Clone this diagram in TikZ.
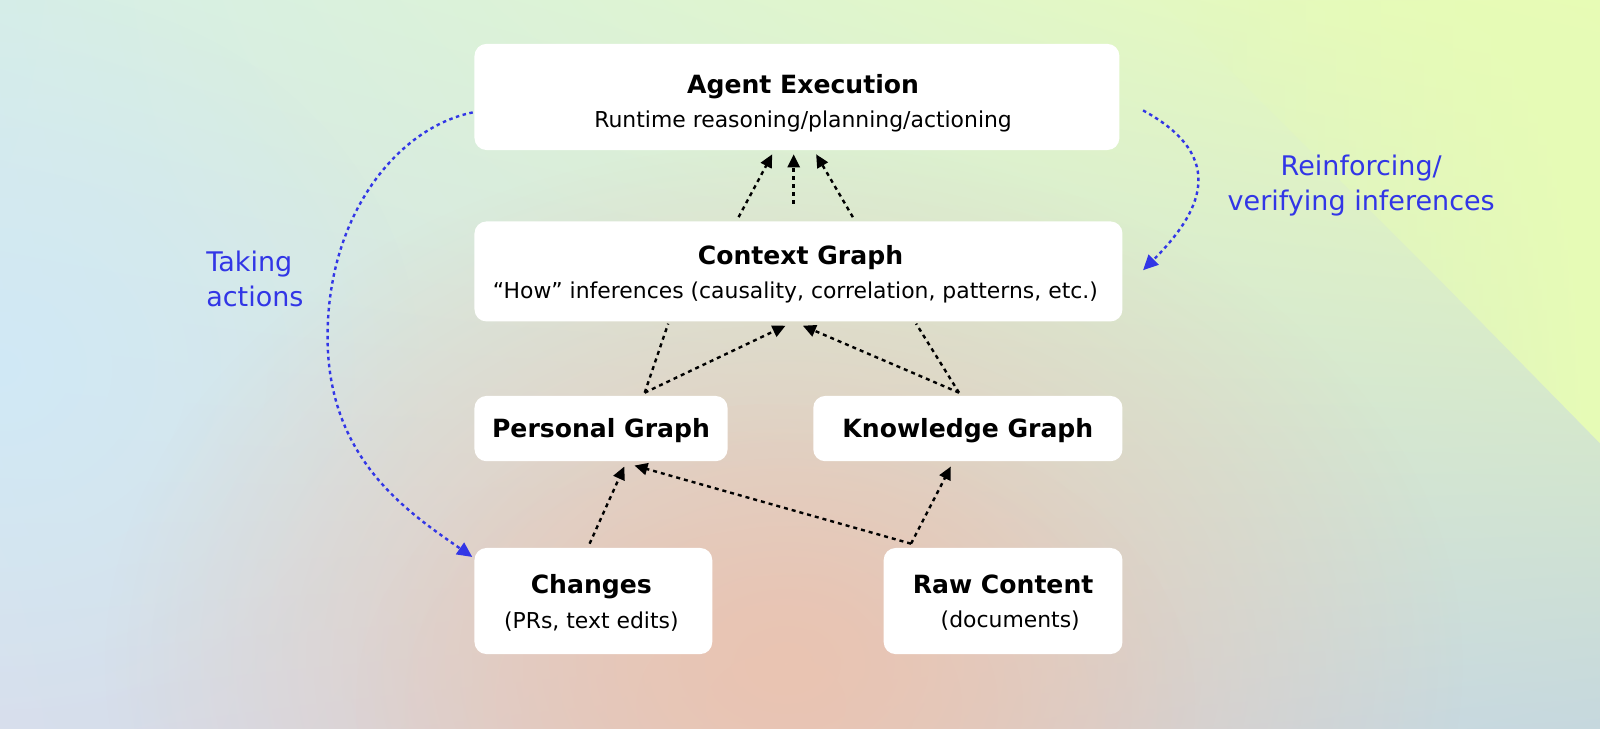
\documentclass[tikz,border=0pt]{standalone}
\usepackage{fontspec}
\setmainfont{DejaVu Sans}
\usetikzlibrary{arrows.meta,calc,fadings,shadings}
\tikzfading[name=softblob, inner color=transparent!0, outer color=transparent!100]
\tikzfading[name=toeast, left color=transparent!100, middle color=transparent!94, right color=transparent!0]
\definecolor{blu}{RGB}{50,54,230}
\definecolor{bgUL}{RGB}{214,238,232}
\definecolor{bgUR}{RGB}{232,252,180}
\definecolor{bgLL}{RGB}{216,222,236}
\definecolor{bgLR}{RGB}{198,216,222}
\definecolor{peach}{RGB}{234,196,178}
\definecolor{skyb}{RGB}{208,233,247}
\definecolor{lime}{RGB}{231,252,182}
\def\k{1.0204}
\begin{document}
\begin{tikzpicture}[x=1.0204pt,y=-1.0204pt,
  box/.style={fill=white, rounded corners=12pt, inner sep=0pt},
  ttl/.style={font=\fontsize{25.1}{30}\selectfont\bfseries, inner sep=0pt, anchor=base},
  sub/.style={font=\fontsize{21.9}{30}\selectfont, inner sep=0pt, anchor=base},
  conn/.style={line width=2.4pt, dash pattern=on 4pt off 4pt, -{Triangle[length=13pt,width=12pt]}},
  plainc/.style={line width=2.4pt, dash pattern=on 4pt off 4pt},
  bconn/.style={blu, line width=2.4pt, dash pattern=on 3.5pt off 3.5pt, -{Triangle[length=15pt,width=14pt]}},
  lbl/.style={blu, font=\fontsize{27}{34.5}\selectfont, inner sep=0pt}
]
\useasboundingbox (0,0) rectangle (1568,713.44);
% background
\shade[upper left=bgUL, upper right=bgUR, lower left=bgLL, lower right=bgLR] (0,0) rectangle (1568,713.44);
\fill[skyb, path fading=softblob, opacity=0.9] (0,360) ellipse [x radius=420pt, y radius=380pt];
\fill[peach, path fading=softblob, opacity=1] (770,650) ellipse [x radius=680pt, y radius=520pt];
\fill[peach, path fading=softblob, opacity=0.6] (760,690) ellipse [x radius=420pt, y radius=300pt];
\fill[lime, path fading=toeast] (1137,0) -- (1411,274) -- (1568,434) -- (1568,0) -- cycle;

% boxes
\node[box, minimum width=632*\k, minimum height=104*\k] (ag) at (781,95) {};
\node[box, minimum width=635*\k, minimum height=98*\k] (ctx) at (782.5,266) {};
\node[box, minimum width=248*\k, minimum height=64*\k] (pg) at (589,420) {};
\node[box, minimum width=303*\k, minimum height=64*\k] (kg) at (948.5,420) {};
\node[box, minimum width=233*\k, minimum height=104*\k] (ch) at (581.5,589) {};
\node[box, minimum width=234*\k, minimum height=104*\k] (rc) at (983,589) {};

% texts
\node[ttl] (agt) at ($(ag.north)+(6,49)$) {Agent Execution};
\node[sub] (ags) at ($(ag.north)+(6,82)$) {Runtime reasoning/planning/actioning};
\node[ttl] (ctxt) at ($(ctx.north)+(2,42)$) {Context Graph};
\node[sub] (ctxs) at ($(ctx.north)+(-3,76)$) {“How” inferences (causality, correlation, patterns, etc.)};
\node[ttl] (pgt) at ($(pg.north)+(0,41)$) {Personal Graph};
\node[ttl] (kgt) at ($(kg.north)+(0,41)$) {Knowledge Graph};
\node[ttl] (cht) at ($(ch.north)+(-2,45)$) {Changes};
\node[sub] (chs) at ($(ch.north)+(-2,79)$) {(PRs, text edits)};
\node[ttl] (rct) at ($(rc.north)+(0,45)$) {Raw Content};
\node[sub] (rcs) at ($(rc.north)+(7,78)$) {(documents)};

% black connectors
\draw[conn] ($(ctx.north west)+(259,-4)$) -- ($(ag.south west)+(292,4)$);
\draw[conn] ($(ctx.north west)+(313,-17)$) -- ($(ag.south west)+(313,4)$);
\draw[conn] ($(ctx.north west)+(371,-4)$) -- ($(ag.south west)+(335,4)$);

\coordinate (pgtop) at ($(pg.north west)+(167,-3)$);
\coordinate (kgtop) at ($(kg.north west)+(143,-3)$);
\draw[plainc] (pgtop) -- ($(ctx.south west)+(190,2)$);
\draw[conn] (pgtop) -- ($(ctx.south west)+(305,4)$);
\draw[conn] (kgtop) -- ($(ctx.south west)+(322,4)$);
\draw[plainc] (kgtop) -- ($(ctx.south west)+(433,2)$);

\coordinate (chtop) at ($(ch.north west)+(113,-4)$);
\coordinate (rctop) at ($(rc.north west)+(27,-4)$);
\draw[conn] (chtop) -- ($(pg.south west)+(147,5)$);
\draw[conn] (rctop) -- ($(pg.south west)+(157,4)$);
\draw[conn] (rctop) -- ($(kg.south west)+(135,5)$);

% blue arcs
\coordinate (lmid) at (321,330);
\draw[bconn] ($(ag.south west)+(-1.5,-37)$) .. controls (390,125) and (321,210) .. (lmid)
  .. controls (321,450) and (400,502) .. ($(ch.north west)+(-2,9)$);
\draw[bconn] ($(ag.south east)+(23,-39)$) .. controls (1206,155) and (1175,210) .. ($(ctx.north east)+(20,48)$);

% labels
\node[lbl, anchor=north west, align=left] (lta) at (202,246) {Taking\\actions};
\node[lbl, anchor=north, align=center] (lri) at (1334,152) {Reinforcing/\\verifying inferences};
\end{tikzpicture}
\end{document}
